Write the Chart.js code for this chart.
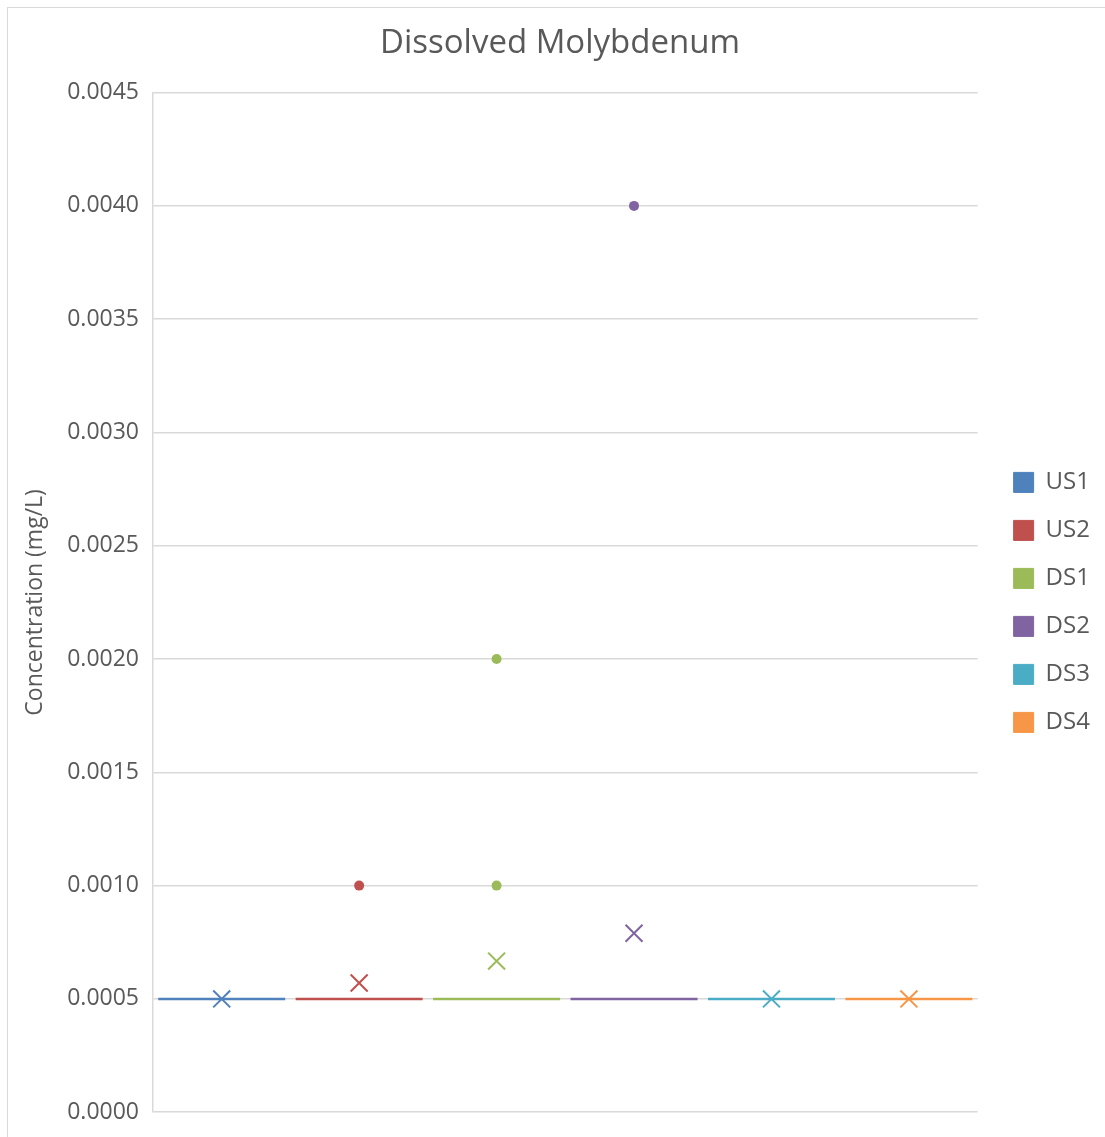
<!DOCTYPE html>
<html>
<head>
<meta charset="utf-8">
<script src="https://cdn.jsdelivr.net/npm/chart.js@4"></script>
<style>
  html, body { margin: 0; padding: 0; background: #fff; overflow: hidden; }
  #frame { position: absolute; left: 7px; top: 7px; width: 1110px; height: 1140px;
           border-top: 1.5px solid #d9d9d9; border-left: 1.5px solid #d9d9d9; }
  #myBoxChart { position: absolute; left: 0; top: 0; }
</style>
</head>
<body>
<div id="frame"></div>
<canvas id="myBoxChart" width="1105" height="1140"></canvas>
<script>
// box & whisker summary per sampling site
const sites = ["US1", "US2", "DS1", "DS2", "DS3", "DS4"];
const colors = ["#4F81BD", "#C0504D", "#9BBB59", "#8064A2", "#4BACC6", "#F79646"];
const medians = [0.0005, 0.0005, 0.0005, 0.0005, 0.0005, 0.0005];
const means = [0.0005, 0.00057, 0.000667, 0.00079, 0.0005, 0.0005];
const outliers = [[], [0.001], [0.002, 0.001], [0.004], [], []];
const yTicks = [0, 0.0005, 0.001, 0.0015, 0.002, 0.0025, 0.003, 0.0035, 0.004, 0.0045];

const FONT = "'Open Sans', 'Noto Sans', sans-serif";
const GREY = "#595959";

let datasets = sites.map((site, i) => {
  let pts = [{ x: site, y: medians[i] }, { x: site, y: means[i] }];
  let styles = ["line", "crossRot"];
  let radii = [63.5, 12];
  let widths = [2.5, 2];
  outliers[i].forEach(v => {
    pts.push({ x: site, y: v });
    styles.push("circle");
    radii.push(5);
    widths.push(0);
  });
  return {
    label: site,
    data: pts,
    showLine: false,
    borderColor: colors[i],
    backgroundColor: colors[i],
    borderWidth: 1,
    pointStyle: styles,
    pointRadius: radii,
    pointHoverRadius: radii,
    pointBorderWidth: widths,
    pointBackgroundColor: colors[i],
    pointBorderColor: colors[i],
  };
});

let myBoxChart = new Chart("myBoxChart", {
  type: "line",
  data: { labels: sites, datasets: datasets },
  options: {
    responsive: false,
    animation: false,
    layout: { autoPadding: false, padding: { left: 20, right: 5, top: 0, bottom: 23 } },
    plugins: {
      title: {
        display: true,
        text: "Dissolved Molybdenum",
        color: GREY,
        font: { family: FONT, size: 33, weight: "normal" },
        padding: { top: 24, bottom: 29 },
      },
      legend: {
        position: "right",
        fullSize: false,
        labels: {
          color: GREY,
          font: { family: FONT, size: 24 },
          boxWidth: 20,
          boxHeight: 20,
          padding: 24,
        },
      },
      tooltip: { enabled: false },
    },
    scales: {
      x: {
        type: "category",
        offset: true,
        display: false,
      },
      y: {
        min: 0,
        max: 0.0045,
        afterFit: (s) => { s.width = 133; },
        afterBuildTicks: (s) => { s.ticks = yTicks.map(v => ({ value: v })); },
        ticks: {
          color: GREY,
          font: { family: FONT, size: 23 },
          padding: 14,
          callback: (v) => v.toFixed(4),
        },
        grid: { color: "#d9d9d9", lineWidth: 1.5, drawTicks: false },
        border: { color: "#d9d9d9", width: 1.5 },
        title: {
          display: true,
          text: "Concentration (mg/L)",
          color: GREY,
          font: { family: FONT, size: 23 },
          padding: { top: 2, bottom: 0 },
        },
      },
      // empty spacer between plot and legend
      gap: {
        type: "linear",
        position: "right",
        display: true,
        afterFit: (s) => { s.width = 12; },
        ticks: { display: false },
        grid: { display: false },
        border: { display: false },
      },
    },
  },
});
</script>
</body>
</html>
